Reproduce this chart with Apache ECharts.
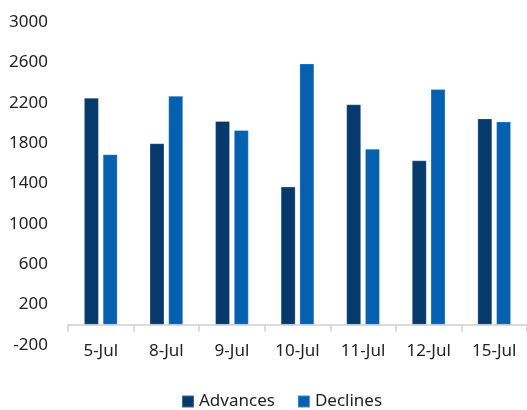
<!DOCTYPE html>
<html>
<head>
<meta charset="utf-8">
<script src="https://cdn.jsdelivr.net/npm/echarts@6/dist/echarts.min.js"></script>
<style>
html,body{margin:0;padding:0;background:#fff;}
#chart{width:527px;height:410px;}
</style>
</head>
<body>
<div id="chart"></div>
<script>
const categories = ['5-Jul', '8-Jul', '9-Jul', '10-Jul', '11-Jul', '12-Jul', '15-Jul'];
const advances = [2250, 1800, 2020, 1370, 2185, 1630, 2045];
const declines = [1690, 2270, 1930, 2590, 1745, 2335, 2015];
const yMin = -200;
const yMax = 3000;
const yStep = 400;

const chart = echarts.init(document.getElementById('chart'), null, {renderer: 'canvas'});
const font = 'Noto Sans';
chart.setOption({
  animation: false,
  textStyle: {fontFamily: font},
  grid: {left: 68, top: 22, width: 461, height: 323, containLabel: false},
  legend: {
    data: ['Advances', 'Declines'],
    left: 176,
    top: 388,
    itemWidth: 12,
    itemHeight: 12,
    itemGap: 22,
    icon: 'rect',
    textStyle: {fontFamily: font, fontSize: 17, color: '#222'}
  },
  xAxis: {
    type: 'category',
    data: categories,
    axisLine: {show: true, onZero: true, lineStyle: {color: '#d0d0d0', width: 1.5}},
    axisTick: {show: true, length: 7, alignWithLabel: false, lineStyle: {color: '#d0d0d0', width: 1.5}},
    axisLabel: {fontFamily: font, fontSize: 17, color: '#222', margin: -2}
  },
  yAxis: {
    type: 'value',
    min: yMin,
    max: yMax,
    interval: yStep,
    axisLine: {show: false},
    axisTick: {show: false},
    splitLine: {show: false},
    axisLabel: {fontFamily: font, fontSize: 17, color: '#222', margin: 20, formatter: function (v) { return String(v); }}
  },
  series: [
    {
      name: 'Advances',
      type: 'bar',
      data: advances,
      barWidth: 15,
      barGap: '25%',
      itemStyle: {color: '#073A6C', borderColor: 'rgba(255,255,255,0.25)', borderWidth: 1}
    },
    {
      name: 'Declines',
      type: 'bar',
      data: declines,
      barWidth: 15,
      barGap: '25%',
      itemStyle: {color: '#0660B0', borderColor: 'rgba(255,255,255,0.25)', borderWidth: 1}
    }
  ]
});
</script>
</body>
</html>
